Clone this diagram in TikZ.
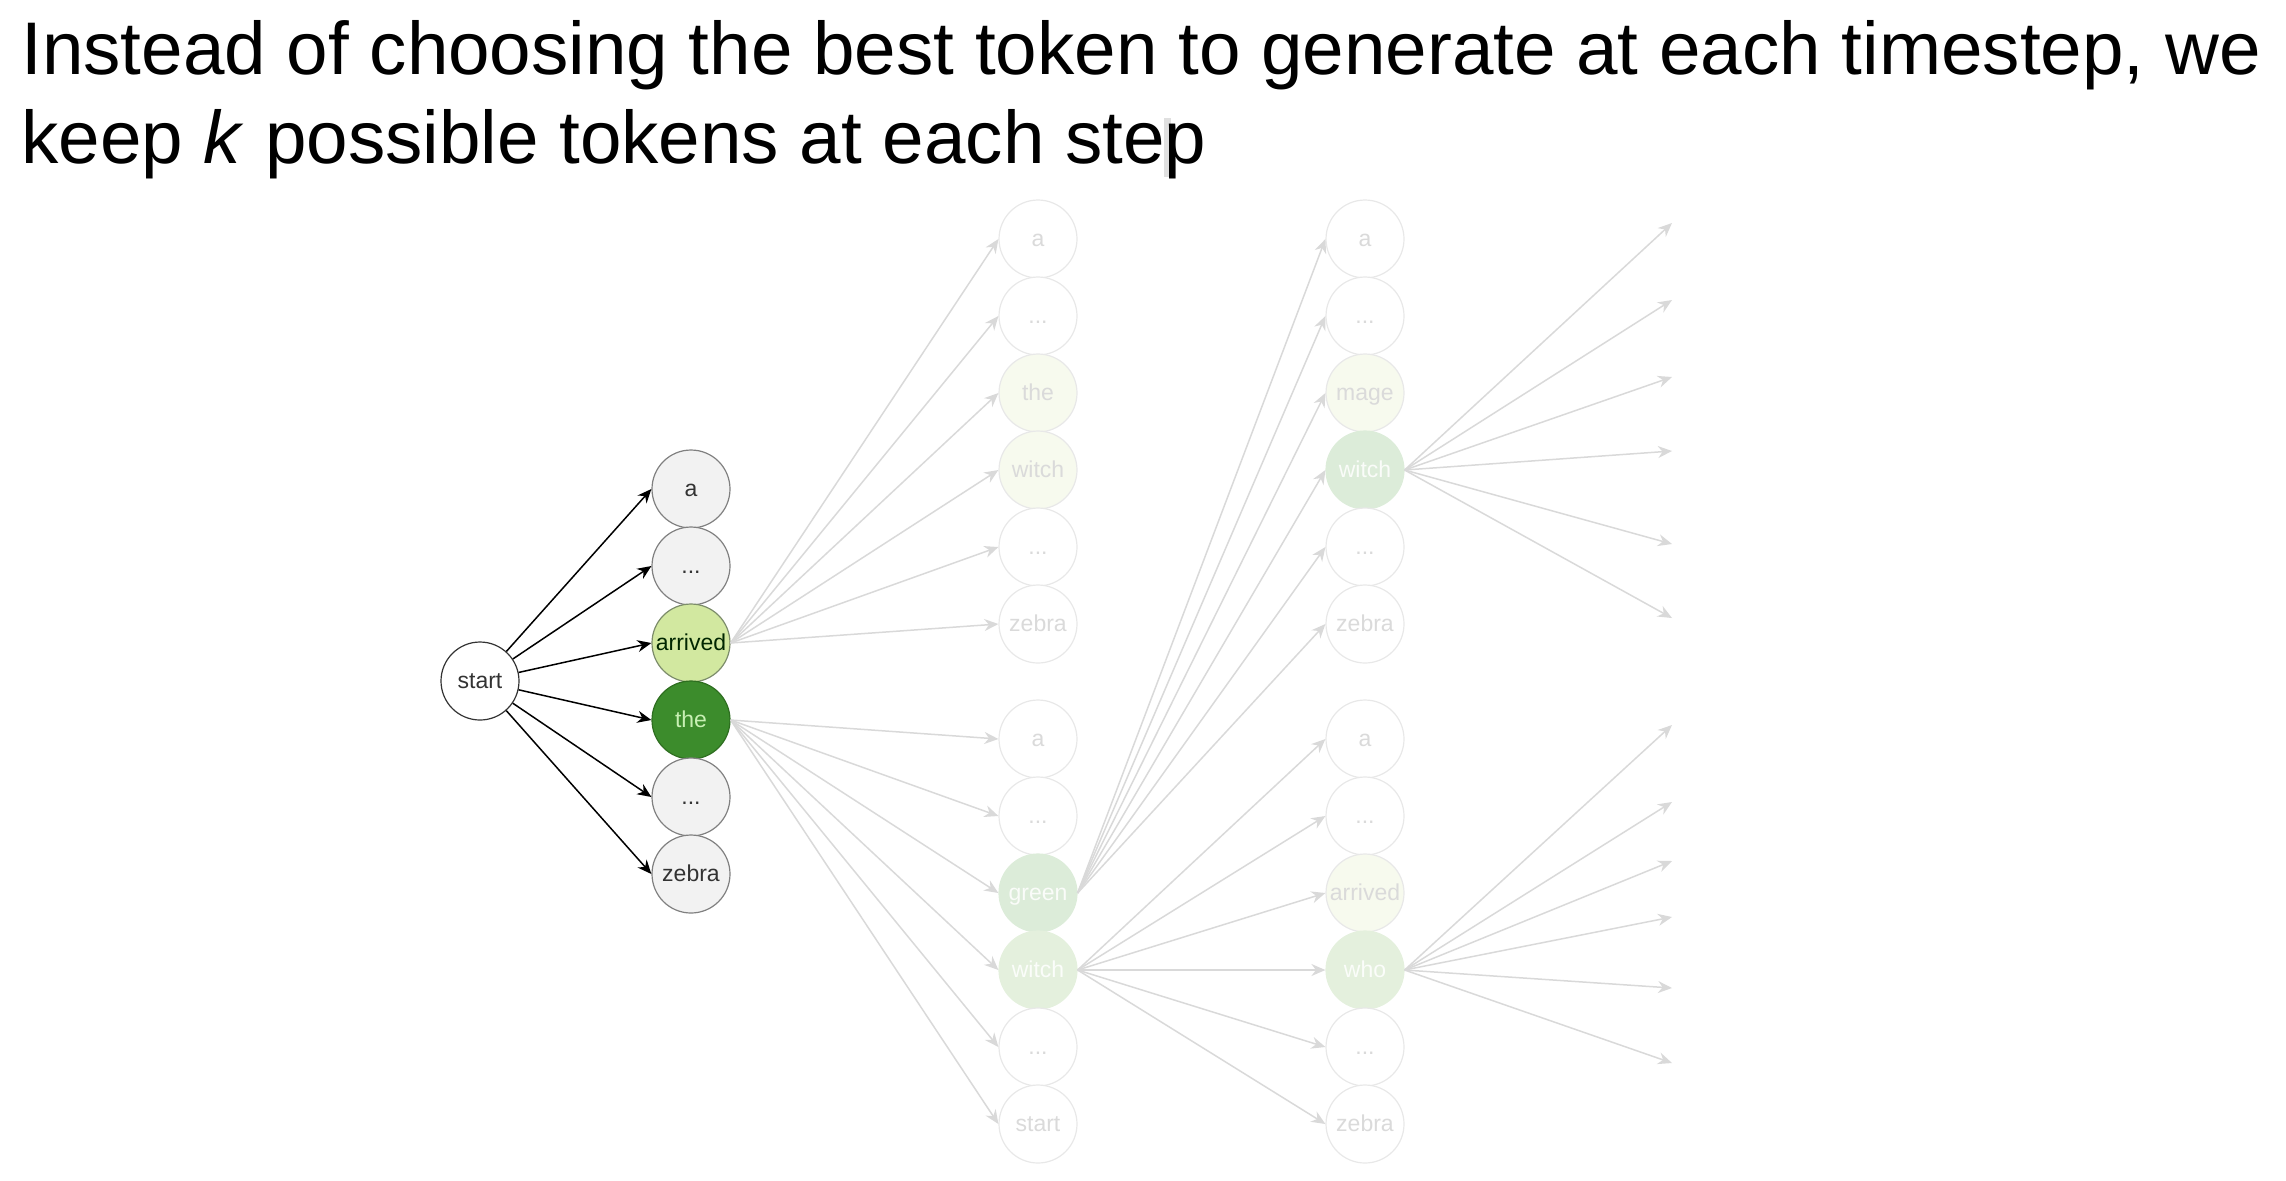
\documentclass[tikz,border=0pt]{standalone}
\usepackage{fontspec}
\setmainfont{Liberation Sans}
\usetikzlibrary{arrows.meta}
\definecolor{nodefill}{HTML}{F2F2F2}
\definecolor{nodeborder}{HTML}{808080}
\definecolor{arrfill}{HTML}{D2E8A0}
\definecolor{arrborder}{HTML}{7C8C6A}
\definecolor{thefill}{HTML}{3C8C2C}
\definecolor{theborder}{HTML}{2E6E20}
\definecolor{thetext}{HTML}{C8F0B4}
\definecolor{edgegray}{HTML}{D9D9D9}
\definecolor{fadeborder}{HTML}{E8E8E8}
\definecolor{fadetext}{HTML}{DADADA}
\definecolor{fadeyellow}{HTML}{F7FAEE}
\definecolor{fadegreenA}{HTML}{DCECD9}
\definecolor{fadegreenB}{HTML}{E4F0DD}
\definecolor{cursorgray}{HTML}{E0E0E0}
\tikzset{
  tok/.style={circle, minimum size=39pt, inner sep=0pt, line width=0.6pt,
    text height=7pt, text depth=0pt,
    font=\fontsize{11.5}{13}\selectfont},
  tokplain/.style={tok, draw=nodeborder, fill=nodefill, text=black!80},
  tokstart/.style={tok, draw=black!80, fill=white, text=black!80},
  tokarr/.style={tok, draw=arrborder, fill=arrfill, text=black!85!green},
  tokthe/.style={tok, draw=theborder, fill=thefill, text=thetext},
  fade/.style={tok, draw=fadeborder, fill=white, text=fadetext},
  fadey/.style={tok, draw=fadeborder, fill=fadeyellow, text=fadetext},
  fadeg/.style={tok, draw=fadegreenA, fill=fadegreenA, text=white!85!fadegreenA},
  fadegb/.style={tok, draw=fadegreenB, fill=fadegreenB, text=white!85!fadegreenB},
  blackedge/.style={draw=black, line width=0.75pt, -{Stealth[length=7pt,width=6pt]}},
  grayedge/.style={draw=edgegray, line width=0.75pt, -{Stealth[length=7pt,width=6pt]}},
  titletext/.style={anchor=base west, inner sep=0pt, font=\fontsize{37.3}{44}\selectfont}
}
\begin{document}
\begin{tikzpicture}[x=0.5pt,y=-0.5pt]
\useasboundingbox (0,0) rectangle (2286,1180);
% cursor mark
\fill[cursorgray] (1164,118) rectangle (1171,177);
% title
\node[titletext] (title1) at (21,74) {Instead of choosing the best token to generate at each timestep, we};
\node[titletext] (title2) at (21,163) {keep \textit{k} possible tokens at each step};

% column 0 and 1
\node[tokstart] (start) at (480,681) {start};
\node[tokplain] (c1a) at (691,489) {a};
\node[tokplain] (c1d1) at (691,566) {...};
\node[tokarr] (c1arr) at (691,643) {arrived};
\node[tokthe] (c1the) at (691,720) {the};
\node[tokplain] (c1d2) at (691,797) {...};
\node[tokplain] (c1zeb) at (691,874) {zebra};

% column 2 upper
\node[fade] (u2a) at (1038,239) {a};
\node[fade] (u2d1) at (1038,316) {...};
\node[fadey] (u2the) at (1038,393) {the};
\node[fadey] (u2witch) at (1038,470) {witch};
\node[fade] (u2d2) at (1038,547) {...};
\node[fade] (u2zeb) at (1038,624) {zebra};
% column 2 lower
\node[fade] (l2a) at (1038,739) {a};
\node[fade] (l2d1) at (1038,816) {...};
\node[fadeg] (l2green) at (1038,893) {green};
\node[fadegb] (l2witch) at (1038,970) {witch};
\node[fade] (l2d2) at (1038,1047) {...};
\node[fade] (l2start) at (1038,1124) {start};

% column 3 upper
\node[fade] (u3a) at (1365,239) {a};
\node[fade] (u3d1) at (1365,316) {...};
\node[fadey] (u3mage) at (1365,393) {mage};
\node[fadeg] (u3witch) at (1365,470) {witch};
\node[fade] (u3d2) at (1365,547) {...};
\node[fade] (u3zeb) at (1365,624) {zebra};
% column 3 lower
\node[fade] (l3a) at (1365,739) {a};
\node[fade] (l3d1) at (1365,816) {...};
\node[fadey] (l3arr) at (1365,893) {arrived};
\node[fadegb] (l3who) at (1365,970) {who};
\node[fade] (l3d2) at (1365,1047) {...};
\node[fade] (l3zeb) at (1365,1124) {zebra};

% free ends
\coordinate (eu1) at (1672,223);
\coordinate (eu2) at (1672,300);
\coordinate (eu3) at (1672,377);
\coordinate (eu4) at (1672,451);
\coordinate (eu5) at (1672,544);
\coordinate (eu6) at (1672,618);
\coordinate (el1) at (1672,725);
\coordinate (el2) at (1672,802);
\coordinate (el3) at (1672,861);
\coordinate (el4) at (1672,917);
\coordinate (el5) at (1672,988);
\coordinate (el6) at (1672,1063);

% black edges
\foreach \t in {c1a,c1d1,c1arr,c1the,c1d2,c1zeb}
  \draw[blackedge] (start) -- (\t.west);

% gray edges
\foreach \t in {u2a,u2d1,u2the,u2witch,u2d2,u2zeb}
  \draw[grayedge] (c1arr.east) -- (\t.west);
\foreach \t in {l2a,l2d1,l2green,l2witch,l2d2,l2start}
  \draw[grayedge] (c1the.east) -- (\t.west);
\foreach \t in {u3a,u3d1,u3mage,u3witch,u3d2,u3zeb}
  \draw[grayedge] (l2green.east) -- (\t.west);
\foreach \t in {l3a,l3d1,l3arr,l3who,l3d2,l3zeb}
  \draw[grayedge] (l2witch.east) -- (\t.west);
\foreach \t in {eu1,eu2,eu3,eu4,eu5,eu6}
  \draw[grayedge] (u3witch.east) -- (\t);
\foreach \t in {el1,el2,el3,el4,el5,el6}
  \draw[grayedge] (l3who.east) -- (\t);
\end{tikzpicture}
\end{document}
